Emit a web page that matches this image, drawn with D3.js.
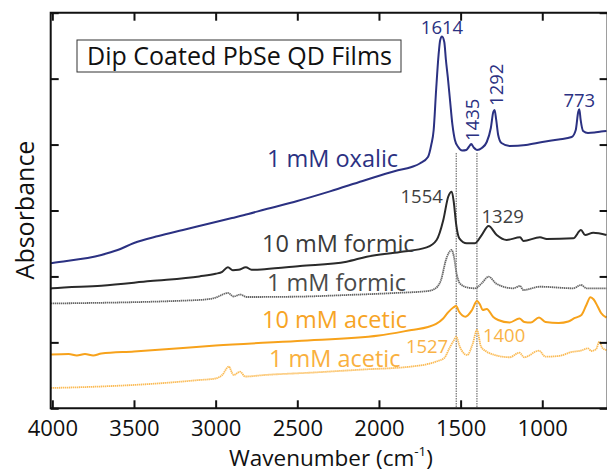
<!DOCTYPE html>
<html>
<head>
<meta charset="utf-8">
<script src="https://cdn.jsdelivr.net/npm/d3@7/dist/d3.min.js"></script>
<style>
  html, body { margin: 0; padding: 0; background: #fff; }
  svg { display: block; font-family: "Open Sans", "Noto Sans", sans-serif; }
</style>
</head>
<body>
<svg id="chart" width="607" height="473"></svg>
<script>
// FTIR spectra of dip-coated PbSe QD films, [wavenumber (cm-1), absorbance (offset, a.u.)]
const oxalic1mM = [
  [4010, 2.20], [4000, 2.204], [3700, 2.325], [3600, 2.40], [3500, 2.507], [3350, 2.613],
  [3200, 2.704], [3000, 2.826], [2900, 2.886], [2800, 2.947], [2700, 3.015], [2500, 3.144],
  [2300, 3.29], [2100, 3.447], [1900, 3.599], [1800, 3.66], [1750, 3.713], [1700, 3.812],
  [1680, 3.994], [1665, 4.221], [1650, 4.828], [1635, 5.359], [1625, 5.586], [1614, 5.639],
  [1600, 5.556], [1590, 5.283], [1578, 5.01], [1565, 4.676], [1550, 4.297], [1535, 4.069],
  [1515, 3.963], [1490, 3.91], [1465, 3.918], [1450, 3.963], [1435, 4.009], [1420, 3.956],
  [1400, 3.918], [1370, 3.948], [1340, 4.039], [1315, 4.252], [1300, 4.494], [1292, 4.525],
  [1282, 4.373], [1270, 4.145], [1250, 4.024], [1200, 3.979], [1100, 3.994], [1000, 4.039],
  [900, 4.077], [820, 4.115], [795, 4.221], [780, 4.494], [773, 4.535], [765, 4.373],
  [750, 4.206], [720, 4.176], [680, 4.183], [640, 4.198], [607, 4.206]
];
const formic10mM = [
  [4010, 1.817], [4000, 1.82], [3700, 1.86], [3400, 1.93], [3100, 2.0], [3000, 2.04],
  [2960, 2.07], [2925, 2.14], [2895, 2.095], [2860, 2.10], [2815, 2.14], [2780, 2.10],
  [2700, 2.11], [2483, 2.158], [2198, 2.224], [2075, 2.299], [1871, 2.37], [1708, 2.44],
  [1647, 2.553], [1606, 2.856], [1576, 3.209], [1554, 3.285], [1541, 3.109], [1528, 2.806],
  [1508, 2.578], [1463, 2.503], [1412, 2.503], [1371, 2.628], [1329, 2.765], [1279, 2.628],
  [1218, 2.553], [1136, 2.594], [1116, 2.538], [1014, 2.594], [973, 2.568], [810, 2.578],
  [763, 2.704], [738, 2.628], [688, 2.663], [607, 2.628]
];
const formic1mM = [
  [4010, 1.59], [3100, 1.643], [3000, 1.678], [2925, 1.749], [2890, 1.696], [2850, 1.726],
  [2810, 1.688], [2500, 1.693], [2200, 1.718], [1900, 1.749], [1700, 1.779], [1660, 1.809],
  [1620, 1.946], [1590, 2.249], [1555, 2.401], [1541, 2.299], [1525, 2.048], [1505, 1.896],
  [1463, 1.835], [1412, 1.82], [1371, 1.896], [1329, 1.996], [1279, 1.885], [1177, 1.82],
  [1136, 1.855], [1116, 1.794], [1014, 1.844], [810, 1.82], [763, 1.87], [728, 1.82],
  [607, 1.82]
];
const acetic10mM = [
  [4010, 0.816], [3900, 0.824], [3850, 0.801], [3800, 0.824], [3750, 0.801], [3700, 0.831],
  [3500, 0.862], [3200, 0.915], [3000, 0.953], [2500, 1.021], [2000, 1.104], [1800, 1.188],
  [1700, 1.233], [1650, 1.279], [1610, 1.354], [1580, 1.445], [1545, 1.529], [1527, 1.552],
  [1510, 1.468], [1470, 1.389], [1430, 1.491], [1400, 1.627], [1380, 1.567], [1365, 1.491],
  [1340, 1.506], [1300, 1.385], [1270, 1.339], [1200, 1.301], [1140, 1.362], [1110, 1.309],
  [1070, 1.301], [1020, 1.377], [980, 1.309], [900, 1.294], [840, 1.317], [800, 1.37],
  [760, 1.415], [730, 1.567], [705, 1.684], [685, 1.65], [660, 1.541], [640, 1.445],
  [607, 1.377]
];
const acetic1mM = [
  [4010, 0.308], [3700, 0.331], [3400, 0.369], [3100, 0.429], [3000, 0.452], [2960, 0.505],
  [2920, 0.631], [2890, 0.505], [2850, 0.555], [2820, 0.482], [2700, 0.505], [2400, 0.543],
  [2100, 0.588], [1800, 0.634], [1700, 0.672], [1640, 0.717], [1600, 0.763], [1565, 0.93],
  [1540, 1.036], [1527, 1.086], [1505, 0.934], [1460, 0.808], [1425, 0.986], [1400, 1.188],
  [1375, 0.934], [1340, 0.858], [1290, 0.808], [1200, 0.774], [1140, 0.843], [1110, 0.774],
  [1020, 0.874], [980, 0.783], [900, 0.793], [820, 0.854], [760, 0.877], [720, 0.91],
  [700, 0.869], [670, 0.899], [650, 1.01], [630, 0.91], [607, 0.884]
];

const seriesNames = ["1 mM oxalic", "10 mM formic", "1 mM formic", "10 mM acetic", "1 mM acetic"];
const xTickValues = [4000, 3500, 3000, 2500, 2000, 1500, 1000];
const yTickValues = [0, 1, 2, 3, 4, 5, 6];
const markerLines = [1527, 1400];
const peakLabels = ["1614", "1435", "1292", "773", "1554", "1329", "1527", "1400"];
const titleText = "Dip Coated PbSe QD Films";

const svg = d3.select("#chart");
const plotLeft = 50.7, plotRight = 607.6, plotTop = 12.7, plotBottom = 408.3;

const x = d3.scaleLinear().domain([4010, 600]).range([plotLeft, plotRight]);
const y = d3.scaleLinear().domain([0, 6]).range([plotBottom, plotTop]);

// spectra
const traces = [
  { data: oxalic1mM, color: "#2b3182", width: 2.0, dash: null },
  { data: formic10mM, color: "#2a2a2a", width: 2.0, dash: null },
  { data: formic1mM, color: "#666666", width: 1.8, dash: "1.4 0.6" },
  { data: acetic10mM, color: "#f7a21b", width: 2.0, dash: null },
  { data: acetic1mM, color: "#fbbb55", width: 1.8, dash: "1.4 0.6" }
];

// dotted guide lines at the acetate bands
svg.append("g").selectAll("line").data(markerLines).join("line")
  .attr("x1", d => x(d)).attr("x2", d => x(d))
  .attr("y1", 153).attr("y2", plotBottom)
  .attr("stroke", "#555").attr("stroke-width", 1)
  .attr("stroke-dasharray", "1.5 1");

const line = d3.line().x(d => x(d[0])).y(d => y(d[1])).curve(d3.curveMonotoneX);
svg.append("clipPath").attr("id", "plotclip")
  .append("rect").attr("x", plotLeft).attr("y", plotTop)
  .attr("width", plotRight - plotLeft).attr("height", plotBottom - plotTop);

svg.append("g").attr("clip-path", "url(#plotclip)").selectAll("path").data(traces).join("path")
  .attr("d", d => line(d.data))
  .attr("fill", "none")
  .attr("stroke", d => d.color)
  .attr("stroke-width", d => d.width)
  .attr("stroke-linejoin", "round")
  .attr("stroke-dasharray", d => d.dash);

// frame with inward ticks
svg.append("path")
  .attr("d", `M${plotLeft},${plotTop}H${plotRight}V${plotBottom}H${plotLeft}Z`)
  .attr("fill", "none").attr("stroke", "#111").attr("stroke-width", 2);

const xBottom = d3.axisBottom(x).tickValues(xTickValues).tickFormat(d3.format("d"))
  .tickSizeInner(-8).tickSizeOuter(0).tickPadding(12);
const gx = svg.append("g").attr("transform", `translate(0,${plotBottom})`).call(xBottom);
gx.select(".domain").remove();
gx.selectAll(".tick line").attr("stroke", "#111").attr("stroke-width", 2);
gx.selectAll(".tick text").attr("font-size", 22).attr("fill", "#111")
  .attr("font-family", "'Open Sans', sans-serif");

const xTop = d3.axisTop(x).tickValues(xTickValues).tickSizeInner(-8).tickSizeOuter(0).tickFormat("");
const gxt = svg.append("g").attr("transform", `translate(0,${plotTop})`).call(xTop);
gxt.select(".domain").remove();
gxt.selectAll(".tick line").attr("stroke", "#111").attr("stroke-width", 2);

const yLeft = d3.axisLeft(y).tickValues(yTickValues).tickSizeInner(-8).tickSizeOuter(0).tickFormat("");
const gy = svg.append("g").attr("transform", `translate(${plotLeft},0)`).call(yLeft);
gy.select(".domain").remove();
gy.selectAll(".tick line").attr("stroke", "#111").attr("stroke-width", 2);

const yRight = d3.axisRight(y).tickValues(yTickValues).tickSizeInner(-8).tickSizeOuter(0).tickFormat("");
const gyr = svg.append("g").attr("transform", `translate(${plotRight},0)`).call(yRight);
gyr.select(".domain").remove();
gyr.selectAll(".tick line").attr("stroke", "#111").attr("stroke-width", 2);

// axis titles
const xt = svg.append("text").attr("x", 331).attr("y", 466).attr("text-anchor", "middle")
  .attr("font-size", 22.5).attr("fill", "#111");
xt.append("tspan").text("Wavenumber (cm");
xt.append("tspan").attr("font-size", 13.5).attr("dy", -10.5).text("-1");
xt.append("tspan").attr("dy", 10.5).text(")");

svg.append("text").attr("transform", "translate(34,210) rotate(-90)")
  .attr("text-anchor", "middle").attr("font-size", 25).attr("fill", "#111")
  .text("Absorbance");

// title box
svg.append("rect").attr("x", 77).attr("y", 40).attr("width", 324).attr("height", 32)
  .attr("fill", "#fff").attr("stroke", "#333").attr("stroke-width", 1);
svg.append("text").attr("x", 239.5).attr("y", 65).attr("text-anchor", "middle")
  .attr("font-size", 25).attr("fill", "#111").text(titleText);

// series names, anchored in data coordinates
const nameAnchors = [
  { w: 2686, a: 3.66, color: "#2b3182" },
  { w: 2716, a: 2.371, color: "#3a3a3a" },
  { w: 2686, a: 1.779, color: "#4a4a4a" },
  { w: 2716, a: 1.218, color: "#f7a425" },
  { w: 2674, a: 0.63, color: "#f9b03e" }
];
svg.append("g").selectAll("text").data(seriesNames).join("text")
  .attr("x", (d, i) => x(nameAnchors[i].w))
  .attr("y", (d, i) => y(nameAnchors[i].a))
  .attr("font-size", 23.5)
  .attr("fill", (d, i) => nameAnchors[i].color)
  .text(d => d);

// peak annotations; each sits on the band it names
function valueAt(data, w) {
  const p = data.find(d => d[0] === w);
  return p ? p[1] : null;
}
const peakSpecs = [
  { series: oxalic1mM, color: "#2b3182", rot: false, anchor: "middle", dx: 0, dy: -3 },
  { series: oxalic1mM, color: "#2b3182", rot: true, anchor: "start", dx: 8, dy: -3 },
  { series: oxalic1mM, color: "#2b3182", rot: true, anchor: "start", dx: 8, dy: -4 },
  { series: oxalic1mM, color: "#2b3182", rot: false, anchor: "middle", dx: 0, dy: -2.5 },
  { series: formic10mM, color: "#404040", rot: false, anchor: "end", dx: -9, dy: 11 },
  { series: formic10mM, color: "#404040", rot: false, anchor: "start", dx: -7, dy: -3 },
  { series: acetic1mM, color: "#f9b347", rot: false, anchor: "end", dx: -8, dy: 16 },
  { series: acetic1mM, color: "#f9b347", rot: false, anchor: "start", dx: 6, dy: 12 }
];
const pk = svg.append("g").attr("font-size", 18.5);
peakLabels.forEach((lab, i) => {
  const s = peakSpecs[i];
  const w = +lab;
  const px = x(w), py = y(valueAt(s.series, w));
  const t = pk.append("text").attr("fill", s.color).attr("text-anchor", s.anchor).text(lab);
  if (s.rot) {
    t.attr("transform", `translate(${px + s.dx},${py + s.dy}) rotate(-90)`);
  } else {
    t.attr("x", px + s.dx).attr("y", py + s.dy);
  }
});
</script>
</body>
</html>
